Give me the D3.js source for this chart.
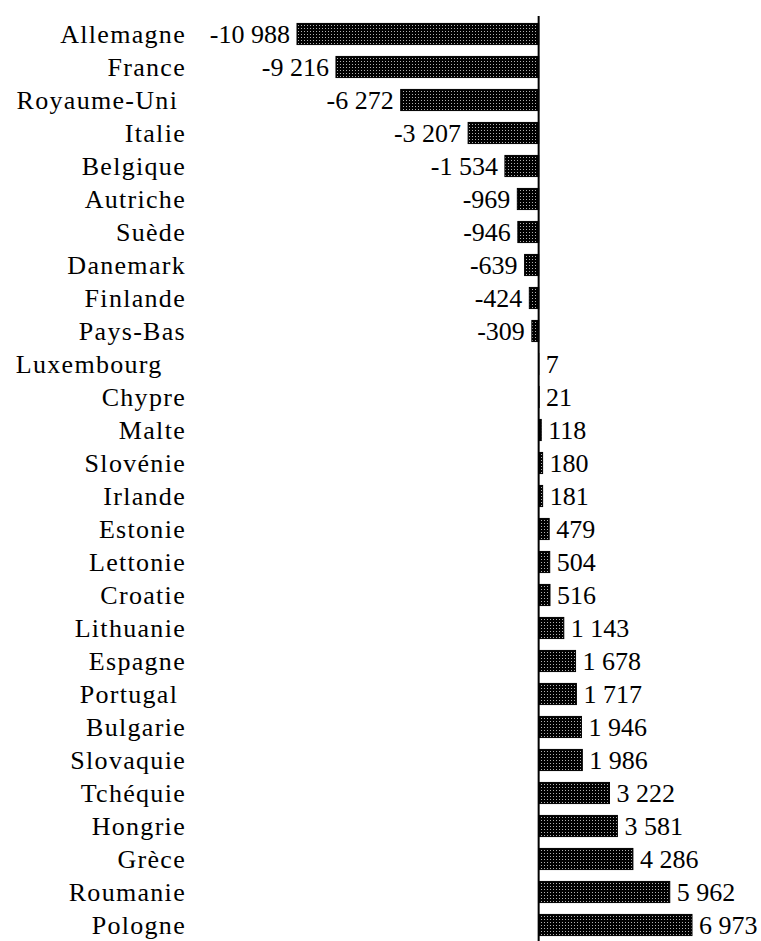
<!DOCTYPE html>
<html><head><meta charset="utf-8">
<script src="https://cdn.jsdelivr.net/npm/d3@7"></script>
<style>html,body{margin:0;padding:0;background:#fff;} svg{display:block;} text{white-space:pre;}</style>
</head><body>
<script>
const countries = ["Allemagne","France","Royaume-Uni ","Italie","Belgique","Autriche","Suède","Danemark","Finlande","Pays-Bas","Luxembourg   ","Chypre","Malte","Slovénie","Irlande","Estonie","Lettonie","Croatie","Lithuanie","Espagne","Portugal ","Bulgarie","Slovaquie","Tchéquie","Hongrie","Grèce","Roumanie","Pologne"];
const values = [-10988,-9216,-6272,-3207,-1534,-969,-946,-639,-424,-309,7,21,118,180,181,479,504,516,1143,1678,1717,1946,1986,3222,3581,4286,5962,6973];

const W = 761, H = 941;
const data = countries.map((c,i)=>({c, v: values[i], i}));
const svg = d3.select("body").append("svg").attr("width",W).attr("height",H);

const defs = svg.append("defs");
const pat = defs.append("pattern").attr("id","dots").attr("patternUnits","userSpaceOnUse")
  .attr("width",3).attr("height",3);
pat.append("rect").attr("width",3).attr("height",3).attr("fill","#000");
pat.append("rect").attr("x",1).attr("y",1).attr("width",1).attr("height",1).attr("fill","#b0b0b0");

const x = d3.scaleLinear().domain([d3.min(values), d3.max(values)]).range([297, 692]);
const y = d3.scaleBand().domain(d3.range(countries.length)).range([17.5, 941.5]).paddingInner(0.36).paddingOuter(0.18);

const loc = d3.formatLocale({decimal:",", thousands:"\u00a0", grouping:[3], currency:["","€"], minus:"-"});
const fmt = loc.format(",d");
const font = "'Liberation Serif', serif";

svg.selectAll("rect.bar").data(data).join("rect").attr("class","bar")
  .attr("x", d=>Math.min(x(d.v), x(0)))
  .attr("width", d=>Math.abs(x(d.v)-x(0)))
  .attr("y", d=>y(d.i)).attr("height", y.bandwidth())
  .attr("fill","url(#dots)").attr("stroke","#000").attr("stroke-width",1);

svg.append("line").attr("x1",x(0)).attr("x2",x(0)).attr("y1",16).attr("y2",H)
  .attr("stroke","#000").attr("stroke-width",2);

svg.selectAll("text.val").data(data).join("text").attr("class","val")
  .attr("x", d=> d.v<0 ? x(d.v)-7 : x(d.v)+7)
  .attr("y", d=>y(d.i)+y.bandwidth()/2).attr("dy","0.34em")
  .attr("text-anchor", d=> d.v<0 ? "end":"start")
  .attr("font-family",font).attr("font-size",26).attr("fill","#000")
  .text(d=>fmt(d.v));

svg.selectAll("text.cat").data(data).join("text").attr("class","cat")
  .attr("x",186).attr("y", d=>y(d.i)+y.bandwidth()/2).attr("dy","0.34em")
  .attr("text-anchor","end")
  .attr("font-family",font).attr("font-size",26).attr("letter-spacing","1.3px").attr("fill","#000")
  .text(d=>d.c);
</script>
</body></html>
